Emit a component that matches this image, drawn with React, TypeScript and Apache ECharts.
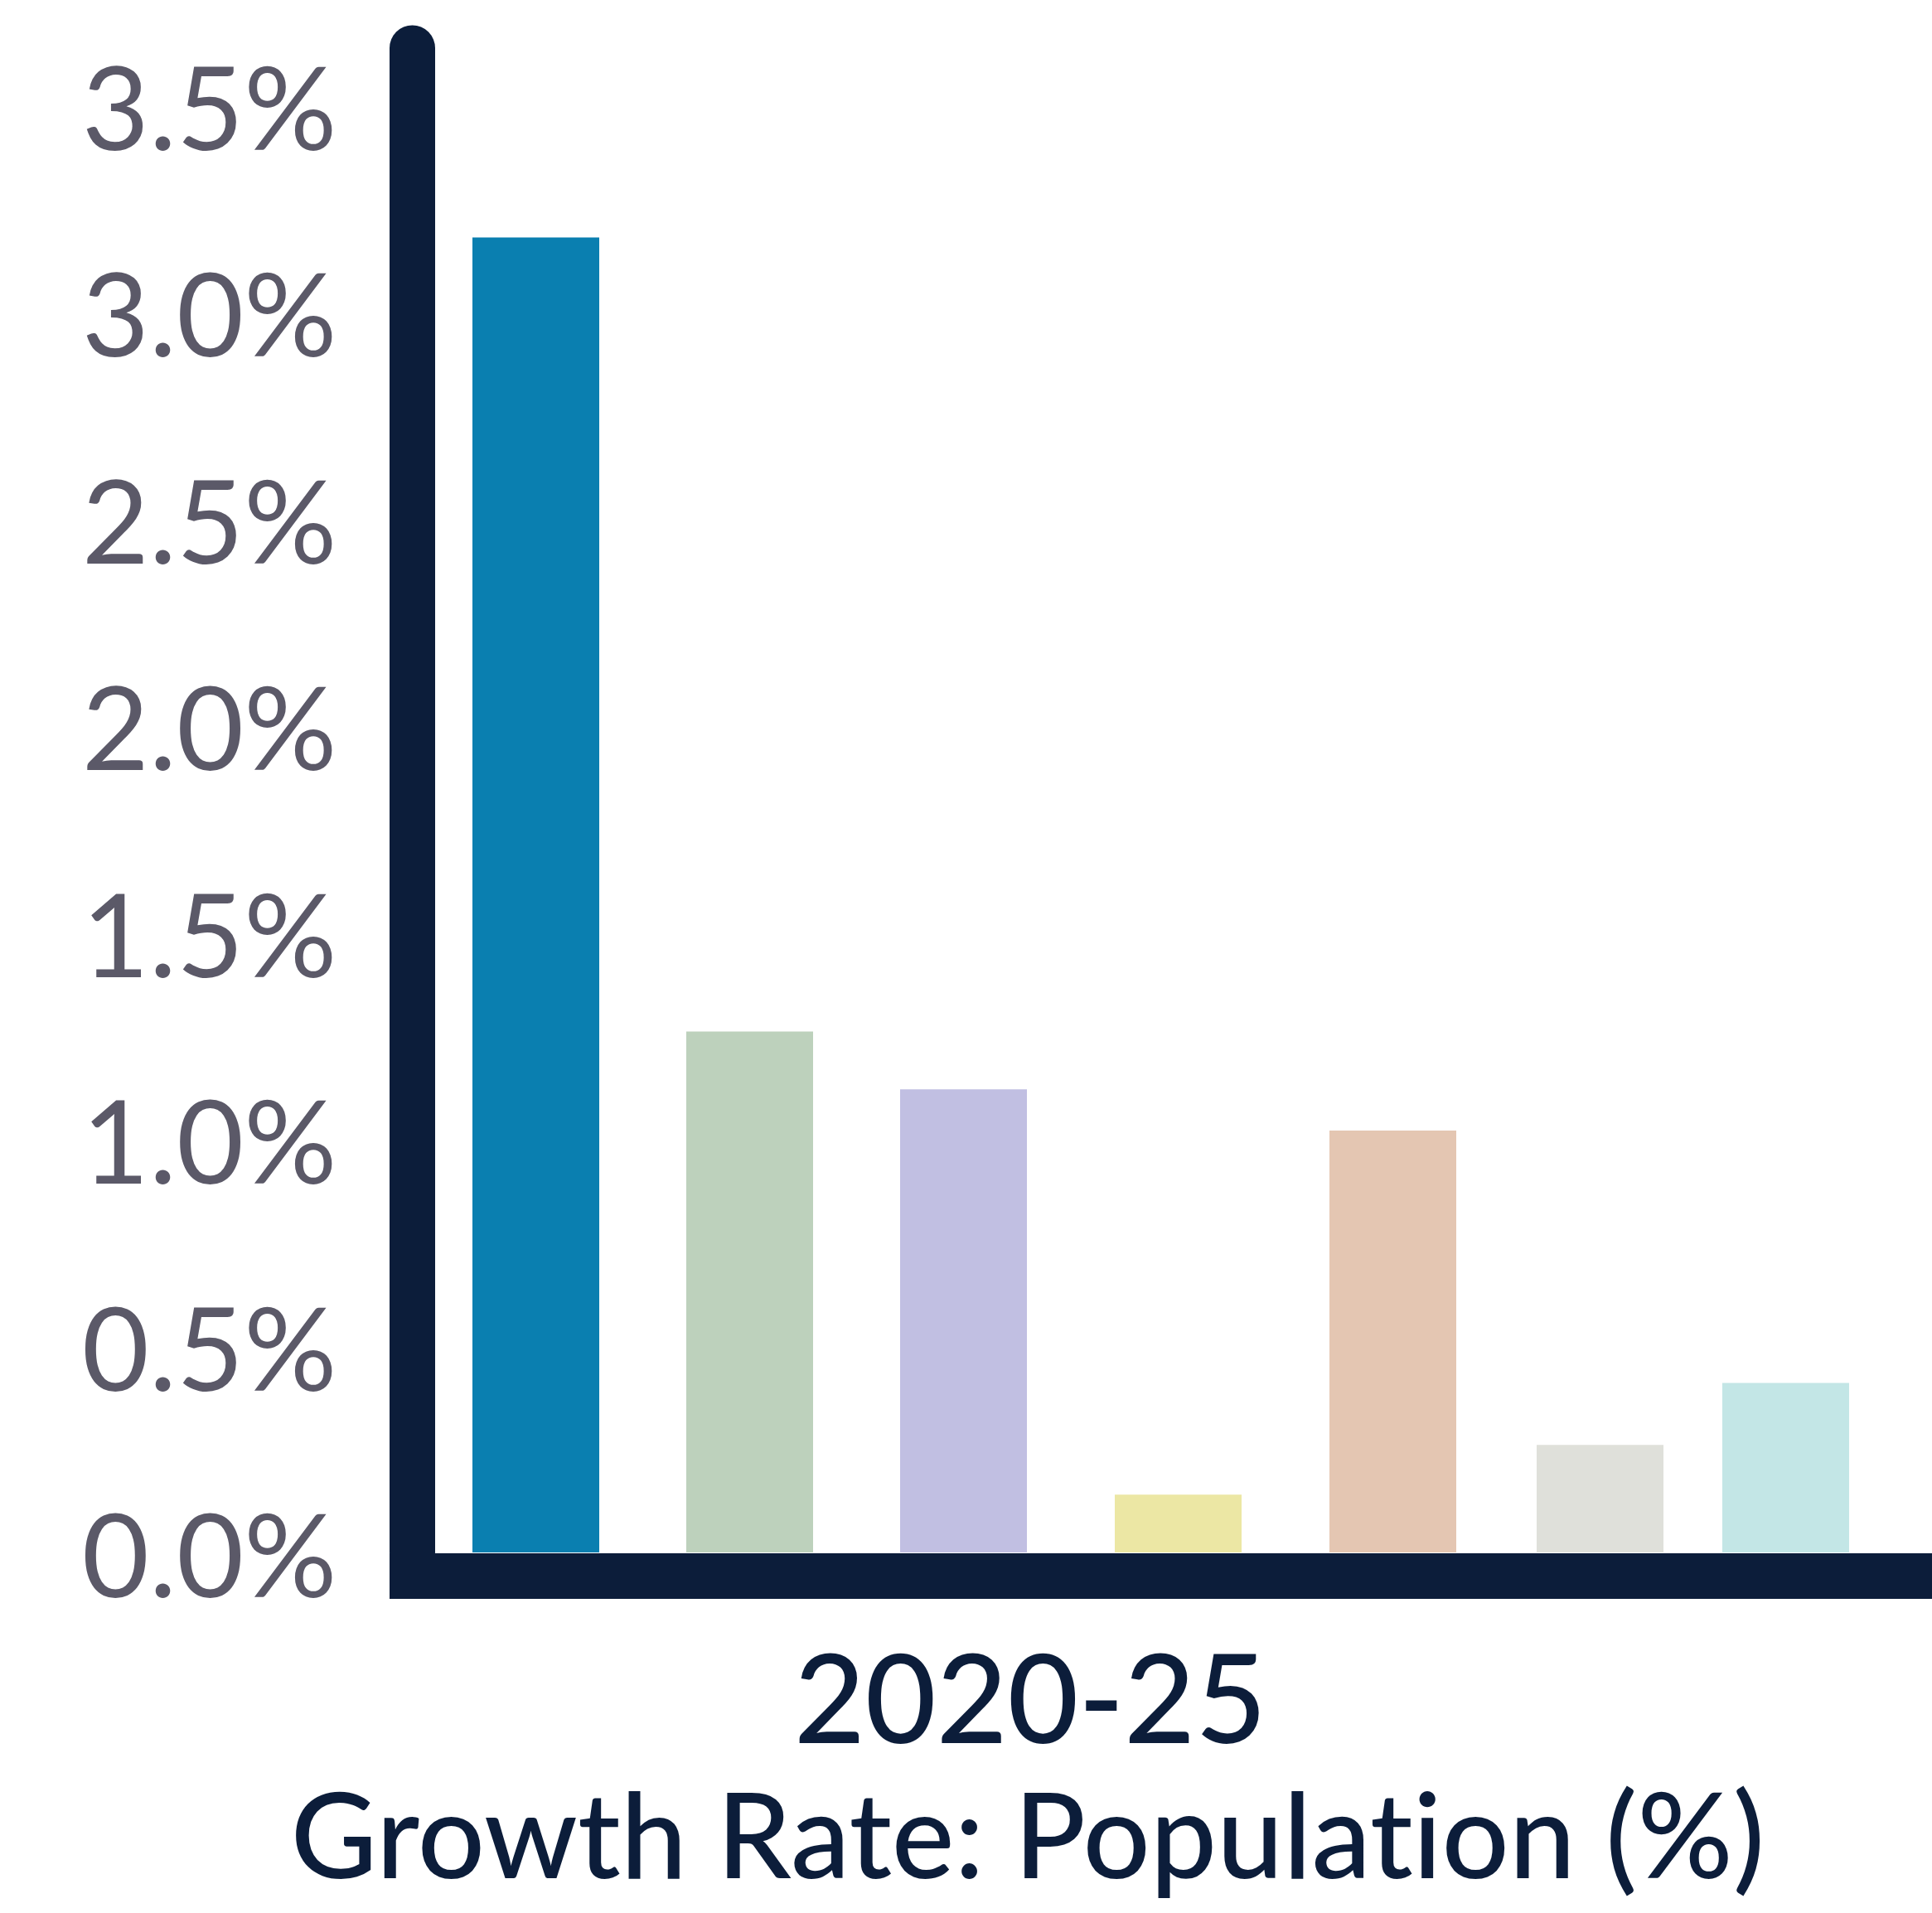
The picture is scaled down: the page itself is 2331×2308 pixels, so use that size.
import React, { useEffect, useRef } from "react";
import * as echarts from "echarts";

// ---- Data ----
const categories: string[] = ["2020-25"];
const seriesNames: string[] = ["Area 1", "Area 2", "Area 3", "Area 4", "Area 5", "Area 6", "Area 7"];
const growthRates: number[] = [3.18, 1.26, 1.12, 0.14, 1.02, 0.26, 0.41];
const axisTitle = "Growth Rate: Population (%)";

// ---- Styles / layout ----
const barColors = ["#0a7fb0", "#bdd1bc", "#c1bfe2", "#ece7a4", "#e4c6b2", "#dfe0da", "#c3e6e6"];
const gapWidths = [105, 105, 106, 106, 97, 71]; // px gaps between neighbouring bars
const BAR_WIDTH = 153;
const NAVY = "#0c1d3a";
const LABEL_GRAY = "#5b5968";

export default function App() {
  const ref = useRef<HTMLDivElement>(null);

  useEffect(() => {
    document.body.style.margin = "0";
    const styleEl = document.createElement("style");
    styleEl.textContent =
      "svg text, svg tspan { font-variant-ligatures: none !important; font-feature-settings: 'liga' 0, 'clig' 0 !important; }";
    document.head.appendChild(styleEl);
    if (!ref.current) return;
    const chart = echarts.init(ref.current, undefined, { renderer: "svg" });

    const series: any[] = [];
    growthRates.forEach((v, i) => {
      series.push({
        type: "bar",
        name: seriesNames[i],
        data: [v],
        barWidth: BAR_WIDTH,
        barGap: 0,
        itemStyle: { color: barColors[i] },
        z: 2,
      });
      if (i < gapWidths.length) {
        series.push({
          type: "bar",
          name: "gap" + i,
          data: ["-"],
          barWidth: gapWidths[i],
          barGap: 0,
          silent: true,
        });
      }
    });

    chart.setOption({
      animation: false,
      backgroundColor: "#ffffff",
      grid: { left: 470, right: -4, top: 58, bottom: 435, containLabel: false },
      xAxis: {
        type: "category",
        data: categories,
        offset: 28,
        axisLine: { show: true, onZero: false, lineStyle: { color: NAVY, width: 55, cap: "butt" } },
        axisTick: { show: false },
        axisLabel: { show: false },
        splitLine: { show: false },
        z: 5,
      },
      yAxis: {
        type: "value",
        min: 0,
        max: 3.638,
        interval: 0.5,
        offset: -27.5,
        axisLine: { show: true, onZero: false, lineStyle: { color: NAVY, width: 55, cap: "round" } },
        axisTick: { show: false },
        splitLine: { show: false },
        axisLabel: {
          showMaxLabel: false,
          margin: 91,
          color: LABEL_GRAY,
          fontFamily: "Lato",
          fontSize: 140,
          fontWeight: "normal",
          formatter: (v: number) => v.toFixed(1) + "%",
        },
        z: 5,
      },
      series,
      graphic: [
        {
          type: "text",
          x: 1243,
          y: 2046,
          style: {
            text: categories[0],
            align: "center",
            verticalAlign: "middle",
            fill: NAVY,
            font: "500 148px Lato",
          },
        },
        {
          type: "text",
          x: 1240,
          y: 2210,
          style: {
            text: axisTitle,
            align: "center",
            verticalAlign: "middle",
            fill: NAVY,
            font: "500 143px Lato",
          },
        },
      ],
    });

    return () => {
      chart.dispose();
      styleEl.remove();
    };
  }, []);

  return <div ref={ref} style={{ width: 2331, height: 2308 }} />;
}
